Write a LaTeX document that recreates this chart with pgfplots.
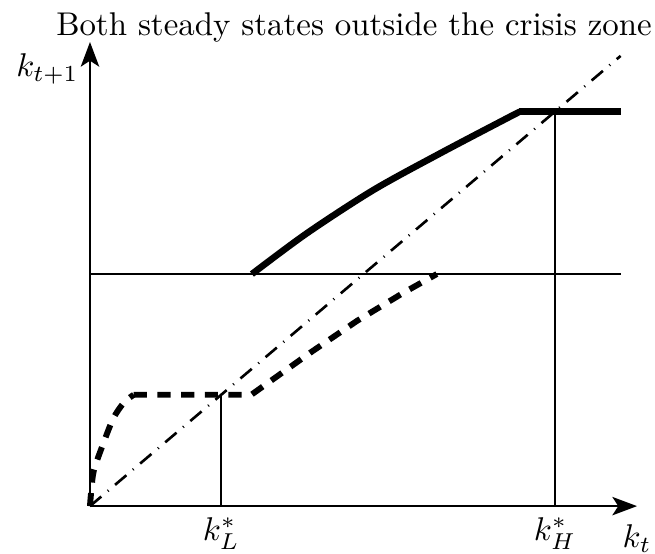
\documentclass[border=0pt]{standalone}
\usepackage{pgfplots}
\pgfplotsset{compat=1.18}
\usetikzlibrary{arrows.meta}

\begin{document}
\begin{tikzpicture}
\begin{axis}[
  scale only axis,
  width=166.3pt, height=141.1pt,
  xmin=0, xmax=1, ymin=0, ymax=1,
  axis lines=left,
  axis line style={line width=0.6pt, -{Stealth[length=7.5pt,width=5.6pt,inset=1.8pt]}},
  xtick={0.24,0.85},
  xticklabels={$k_L^*$,$k_H^*$},
  ytick=\empty,
  major tick length=0pt,
  clip=false,
]
  % 45-degree line k_{t+1} = k_t
  \addplot[black, line width=0.8pt, dash pattern=on 4.5pt off 2.6pt on 0.3pt off 2.6pt]
    coordinates {(0,0) (0.97,0.97)};

  % crisis threshold
  \addplot[black, line width=0.6pt] coordinates {(0,0.5) (0.97,0.5)};

  % high branch of the transition map
  \addplot[black, line width=2pt, smooth] coordinates {
    (0.296,0.500) (0.396,0.5875) (0.518,0.681) (0.640,0.760) (0.762,0.8355) (0.786,0.850)};
  \addplot[black, line width=2pt] coordinates {(0.784,0.850) (0.970,0.850)};

  % low branch of the transition map
  \addplot[black, line width=1.8pt, dash pattern=on 4pt off 3.2pt, smooth] coordinates {
    (0,0) (0.0025,0.035) (0.0073,0.078) (0.0244,0.135) (0.0426,0.189)
    (0.062,0.223) (0.080,0.240)};
  \addplot[black, line width=1.8pt, dash pattern=on 4pt off 3.2pt, line join=round] coordinates {
    (0.080,0.240) (0.295,0.240) (0.402,0.330) (0.488,0.399) (0.572,0.459) (0.634,0.500)};

  % steady states
  \addplot[black, line width=0.6pt] coordinates {(0.24,0) (0.24,0.24)};
  \addplot[black, line width=0.6pt] coordinates {(0.85,0) (0.85,0.85)};

  \node[anchor=base] at (axis cs:0.4826,1.013) {Both steady states outside the crisis zone};
  \node[anchor=base east, inner sep=0pt] at (axis cs:-0.02,0.925) {$k_{t+1}$};
  \node[anchor=base west, inner sep=0pt] at (axis cs:0.9726,-0.0884) {$k_t$};

  \coordinate (bbSW) at (axis cs:-0.1645,-0.1013);
  \coordinate (bbNE) at (axis cs:1.0329,1.0905);
\end{axis}
\pgfresetboundingbox
\path (bbSW) rectangle (bbNE);
\end{tikzpicture}
\end{document}
